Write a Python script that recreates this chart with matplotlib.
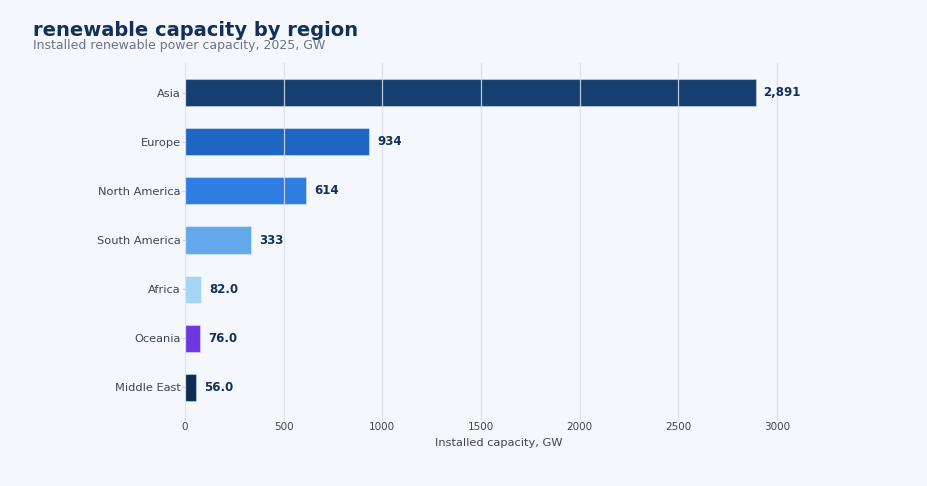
import matplotlib
matplotlib.use("Agg")
import matplotlib.pyplot as plt

regions = ["Asia", "Europe", "North America", "South America", "Africa", "Oceania", "Middle East"]
capacity_gw = [2891, 934, 614, 333, 82.0, 76.0, 56.0]
bar_colors = ["#143f6f", "#1f66c4", "#2f7de0", "#63a8ea", "#a6d4f4", "#7036e0", "#0c2c52"]
x_ticks = [0, 500, 1000, 1500, 2000, 2500, 3000]

title = "renewable capacity by region"
subtitle = "Installed renewable power capacity, 2025, GW"
x_label = "Installed capacity, GW"

bg = "#f4f7fc"
navy = "#13305a"
tick_col = "#3d4654"

plt.rcParams['font.family'] = ['DejaVu Sans']
fig = plt.figure(figsize=(9.28, 4.86), dpi=100, facecolor=bg)
ax = fig.add_axes([185/928, 1-417/486, 0.8757-185/928, (417-63)/486])
ax.set_facecolor(bg)

ypos = list(range(len(regions)))
bars = ax.barh(ypos, capacity_gw, height=0.55, color=bar_colors,
               edgecolor=(1, 1, 1, 0.35), linewidth=0.8, zorder=2)
ax.invert_yaxis()
ax.set_yticks(ypos)
ax.set_yticklabels(regions)
ax.set_xticks(x_ticks)
ax.set_xlim(0, max(capacity_gw) * 1.1)

ax.grid(axis='x', color='#d6e0ea', linewidth=0.9, alpha=0.85, zorder=3)
ax.grid(axis='y', visible=False)
ax.set_axisbelow(False)
for s in ax.spines.values():
    s.set_visible(False)

ax.tick_params(axis='y', labelsize=8.2, colors='#c8d2dc', labelcolor=tick_col, length=2, width=0.8, pad=1)
ax.tick_params(axis='x', labelsize=7.5, colors='#d6e0ea', labelcolor=tick_col, length=2, width=0.8, pad=1.5)
ax.set_xlabel(x_label, fontsize=8.2, color=tick_col, labelpad=4.5)

for b, v in zip(bars, capacity_gw):
    txt = f"{v:,.0f}" if v >= 100 else f"{v:.1f}"
    ax.annotate(txt, (b.get_width(), b.get_y() + b.get_height()/2),
                xytext=(8, 0), textcoords='offset pixels',
                va='center', ha='left', fontsize=8.5, fontweight='bold', color=navy, zorder=4)

fig.text(33/928, 1-36/486, title, fontsize=14, fontweight='bold', color=navy, va='baseline', ha='left')
fig.text(33/928, 1-48.5/486, subtitle, fontsize=9, color='#6b7585', va='baseline', ha='left')

fig.savefig("out.png", dpi=100, facecolor=bg)
